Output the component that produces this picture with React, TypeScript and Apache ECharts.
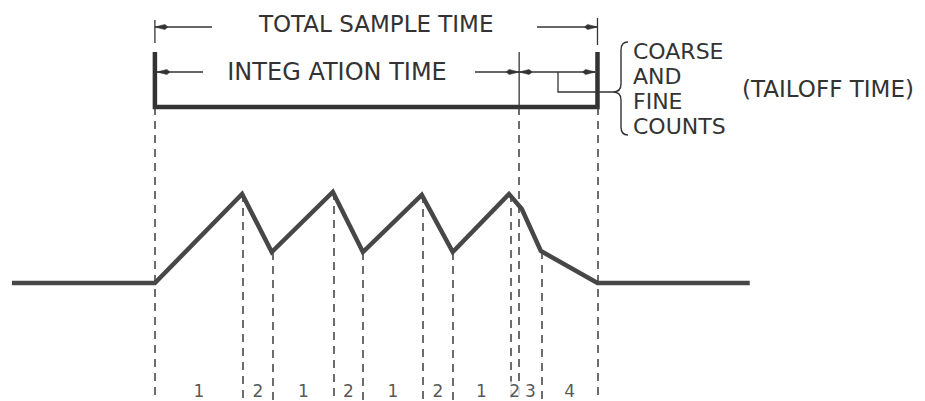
import React, { useEffect, useRef } from "react";
import * as echarts from "echarts";

// Waveform: time in units of the total sample time (0..100), level in arbitrary units
const waveTime = [-32.3, 0, 19.7, 26.4, 40.2, 47.0, 60.3, 67.3, 80.0, 82.9, 87.2, 100, 134.4];
const waveLevel = [0, 0, 89, 31, 91, 31, 88, 31, 89, 74, 32, 0, 0];

// dashed markers dropping from the waveform corners
const dropTime = [19.9, 26.7, 40.4, 47.0, 60.6, 67.3, 80.3, 87.4];
const dropLevel = [89, 31, 91, 31, 88, 31, 89, 32];

// boundaries: sample start, integration end, sample end
const boundaryTime = [0, 82.3, 100];

// phase numbers between the markers
const phaseLabels = ["1", "2", "1", "2", "1", "2", "1", "2", "3", "4"];
const phaseEdges = [0, 19.9, 26.7, 40.4, 47.0, 60.6, 67.3, 80.3, 82.3, 87.4, 100];

const countLines = ["COARSE", "AND", "FINE", "COUNTS"];

const FONT = "DejaVu Sans";
const INK = "#333";
const X_MIN = -35;
const X_MAX = 174;
const Y_MIN = -118;
const Y_MAX = 283;
const BRACKET_LEVEL = 176;
const LABEL_LEVEL = -108;

const braceD =
  "M628,42 C623,42 621,45 621,50 L621,84 C621,89 618,92 613,92 C618,92 621,95 621,100 L621,127 C621,132 623,135 628,135";
echarts.graphic.registerShape("brace", echarts.graphic.extendPath(braceD, {}));

function arrowHead(tip: number, y: number, dir: number) {
  return {
    type: "polygon",
    shape: {
      points: [
        [tip, y],
        [tip - dir * 10, y - 2.6],
        [tip - dir * 13, y],
        [tip - dir * 10, y + 2.6],
      ],
    },
    style: { fill: INK, stroke: INK, lineWidth: 0.5 },
  };
}

function hLine(x1: number, x2: number, y: number, w = 1.3) {
  return { type: "line", shape: { x1, y1: y, x2, y2: y }, style: { stroke: INK, lineWidth: w } };
}
function vLine(x: number, y1: number, y2: number, w = 1.3) {
  return { type: "line", shape: { x1: x, y1, x2: x, y2 }, style: { stroke: INK, lineWidth: w } };
}
function text(t: string, x: number, y: number, size: number, align = "center") {
  return {
    type: "text",
    x,
    y,
    style: { text: t, fontSize: size, fontFamily: FONT, fill: INK, align, verticalAlign: "middle" },
  };
}

export default function App() {
  const ref = useRef<HTMLDivElement>(null);
  useEffect(() => {
    if (!ref.current) return;
    const chart = echarts.init(ref.current, null, { renderer: "svg" });
    const markData: any[] = [];
    dropTime.forEach((t, i) => {
      markData.push([{ coord: [t, dropLevel[i]] }, { coord: [t, Y_MIN] }]);
    });
    boundaryTime.forEach((t) => {
      markData.push([{ coord: [t, BRACKET_LEVEL] }, { coord: [t, Y_MIN] }]);
    });
    const labelData = phaseLabels.map((l, i) => ({
      name: l,
      value: [(phaseEdges[i] + phaseEdges[i + 1]) / 2, LABEL_LEVEL],
    }));
    chart.setOption({
      animation: false,
      grid: { left: 0, right: 0, top: 0, bottom: 0 },
      xAxis: { type: "value", min: X_MIN, max: X_MAX, show: false },
      yAxis: { type: "value", min: Y_MIN, max: Y_MAX, show: false },
      series: [
        {
          type: "line",
          data: waveTime.map((t, i) => [t, waveLevel[i]]),
          symbol: "none",
          z: 5,
          lineStyle: { color: "#474747", width: 4.5, join: "miter" },
          markLine: {
            silent: true,
            symbol: ["none", "none"],
            label: { show: false },
            animation: false,
            lineStyle: { color: "#3c3c3c", width: 1.5, type: [8, 6] },
            emphasis: { disabled: true },
            data: markData,
          },
        },
        {
          type: "scatter",
          data: labelData,
          symbolSize: 1,
          itemStyle: { color: "rgba(0,0,0,0)" },
          z: 6,
          label: {
            show: true,
            position: "inside",
            formatter: "{b}",
            fontSize: 17,
            fontFamily: FONT,
            color: "#2a2a2a",
            backgroundColor: "#fff",
            padding: [1, 0],
          },
        },
      ],
    });

    const px = (t: number) => chart.convertToPixel({ xAxisIndex: 0 }, t) as number;
    const x0 = px(boundaryTime[0]);
    const xe = px(boundaryTime[1]);
    const x1 = px(boundaryTime[2]);
    const yTot = 27;
    const yInt = 72;
    const yStep = 92;
    const yBr = 107;

    const graphics: any[] = [
      // thick bracket
      {
        type: "polyline",
        shape: { points: [[x0, 52], [x0, yBr], [x1, yBr], [x1, 52]] },
        style: { stroke: INK, lineWidth: 4.5, fill: "none", lineJoin: "miter" },
      },
      vLine(xe, 52, yBr),
      // total sample time dimension
      vLine(x0, 20, 43),
      vLine(x1, 18, 45),
      hLine(x0, 212, yTot),
      hLine(537, x1, yTot),
      arrowHead(x0, yTot, -1),
      arrowHead(x1, yTot, 1),
      text("TOTAL SAMPLE TIME", (x0 + x1) / 2, 24, 23),
      // integration time dimension
      hLine(x0 + 2, 203, yInt),
      arrowHead(x0 + 2, yInt, -1),
      hLine(475, xe, yInt),
      arrowHead(xe, yInt, 1),
      arrowHead(xe, yInt, -1),
      hLine(xe, x1 - 2, yInt),
      arrowHead(x1 - 2, yInt, 1),
      text("INTEG ATION TIME", (x0 + xe) / 2, yInt, 24),
      // tailoff leader
      {
        type: "polyline",
        shape: { points: [[558, yInt], [558, yStep], [613, yStep]] },
        style: { stroke: INK, lineWidth: 1.3, fill: "none" },
      },
      {
        type: "brace",
        x: 0,
        y: 0,
        style: { stroke: INK, fill: "none", lineWidth: 1.4 },
      },
      ...countLines.map((s, i) => text(s, 633, 51 + i * 25.3, 22, "left")),
      text("(TAILOFF TIME)", 828, 89, 23),
    ];
    chart.setOption({ graphic: { elements: graphics } });
    return () => chart.dispose();
  }, []);
  return (
    <div
      ref={ref}
      style={{ position: "fixed", left: 0, top: 0, width: 925, height: 401, background: "#fff" }}
    />
  );
}
